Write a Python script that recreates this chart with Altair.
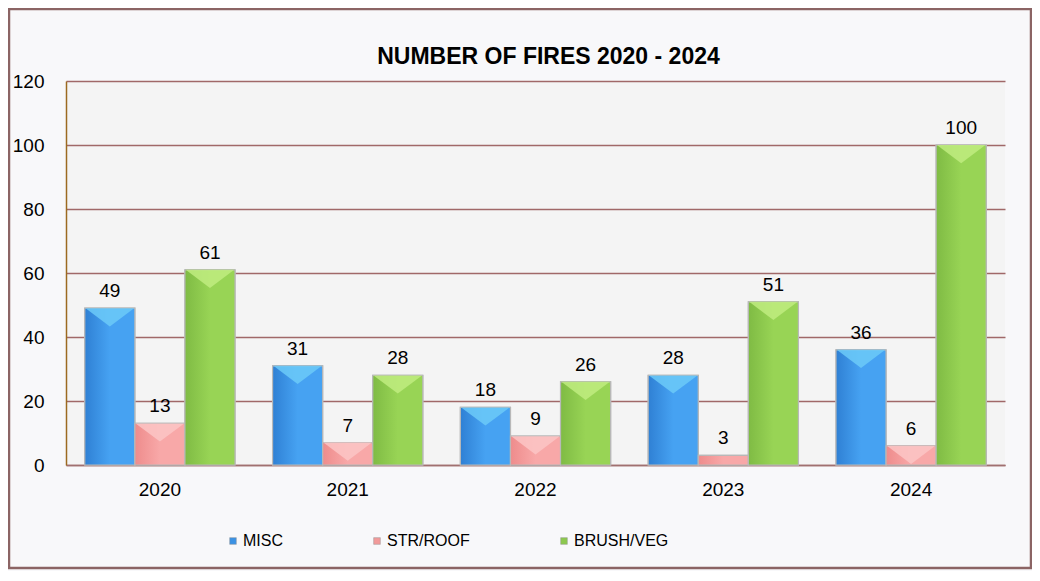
import altair as alt
import pandas as pd

years = ["2020", "2021", "2022", "2023", "2024"]
series = ["MISC", "STR/ROOF", "BRUSH/VEG"]
misc = [49, 31, 18, 28, 36]
str_roof = [13, 7, 9, 3, 6]
brush_veg = [61, 28, 26, 51, 100]
y_ticks = [0, 20, 40, 60, 80, 100, 120]
colors = ["#3b92e4", "#f29a9a", "#8cc84e"]
grad_stops = [("#2f80d4", "#46a2f2"), ("#ee8c8c", "#f8a8a8"), ("#7fbb44", "#98d455")]
bevel_colors = ["#6ccaf8", "#fcc6c6", "#c0ec80"]

rows = []
for name, vals in zip(series, [misc, str_roof, brush_veg]):
    for yr, v in zip(years, vals):
        rows.append({"year": yr, "type": name, "fires": v})
df = pd.DataFrame(rows)

FONT = "Liberation Sans"
W, H = 939, 384

x = alt.X("year:N", sort=years, title=None,
          scale=alt.Scale(domain=years, paddingInner=0.2, paddingOuter=0.1),
          axis=alt.Axis(labelAngle=0, labelFontSize=19, labelPadding=15, ticks=False,
                        domainColor="#a07070", domainWidth=1.5, labelColor="#000", labelFont=FONT))
y = alt.Y("fires:Q", title=None,
          scale=alt.Scale(domain=[0, 120], nice=False),
          axis=alt.Axis(values=y_ticks, labelFontSize=19, labelPadding=22, ticks=False,
                        domainColor="#9c6a20", domainWidth=1.5, gridColor="#a06868",
                        gridWidth=1.5, labelColor="#000", labelFont=FONT))
xo = alt.XOffset("type:N", sort=series, scale=alt.Scale(domain=series))
color = alt.Color("type:N", sort=series, scale=alt.Scale(domain=series, range=colors),
                  legend=alt.Legend(title=None, orient="none", legendX=159, legendY=452,
                                    direction="horizontal", columnPadding=86,
                                    symbolType="square", symbolSize=45, symbolStrokeWidth=0.5,
                                    symbolStrokeColor="#999",
                                    labelFontSize=16, labelFont=FONT, labelColor="#000",
                                    labelOffset=2))

bars = alt.Chart(df).mark_bar(stroke="#b8b8b8", strokeWidth=1.2).encode(
    x=x, xOffset=xo, y=y, color=color
)

grad_layers = []
for name, (c1, c2), bc in zip(series, grad_stops, bevel_colors):
    g = alt.Chart(df).transform_filter(alt.datum.type == name).mark_bar(
        color=alt.Gradient(gradient="linear", x1=0, x2=1, y1=0, y2=0,
                           stops=[alt.GradientStop(color=c1, offset=0),
                                  alt.GradientStop(color=c2, offset=0.5),
                                  alt.GradientStop(color=c2, offset=1)]),
        stroke="#b8b8b8", strokeWidth=1.2
    ).encode(x=alt.X("year:N", sort=years), xOffset=xo, y="fires:Q")
    grad_layers.append(g)
    bevel = alt.Chart(df).transform_filter(
        (alt.datum.type == name) & (alt.datum.fires >= 6)
    ).mark_point(
        shape="M-1,0 L1,0 L0,0.75 Z", filled=True, size=2350, color=bc, opacity=0.85,
        strokeWidth=0
    ).encode(x=alt.X("year:N", sort=years), xOffset=xo, y="fires:Q")
    grad_layers.append(bevel)

labels = alt.Chart(df).mark_text(baseline="alphabetic", dy=-11, fontSize=19, font=FONT, color="#000").encode(
    x=alt.X("year:N", sort=years), xOffset=xo, y="fires:Q", text="fires:Q"
)
border = alt.Chart(pd.DataFrame({"a": [0]})).mark_rect(
    fill=None, stroke="#8b6464", strokeWidth=2.5
).encode(x=alt.value(-57), x2=alt.value(965), y=alt.value(-72), y2=alt.value(487))
title = alt.Chart(pd.DataFrame({"t": ["NUMBER OF FIRES 2020 - 2024"]})).mark_text(
    fontSize=23, fontWeight="bold", font=FONT, color="#000", baseline="middle", align="center"
).encode(x=alt.value(W / 2 + 13), y=alt.value(-24), text="t:N")

chart = alt.layer(border, title, bars, *grad_layers, labels).properties(
    width=W, height=H,
    autosize=alt.AutoSizeParams(type="none"),
    padding={"left": 58, "top": 73, "right": 27, "bottom": 106},
    background="#f8f8fa",
).configure_view(fill="#f4f4f4", stroke=None)

chart.save("out.html", embed_options={"renderer": "svg", "actions": False})
